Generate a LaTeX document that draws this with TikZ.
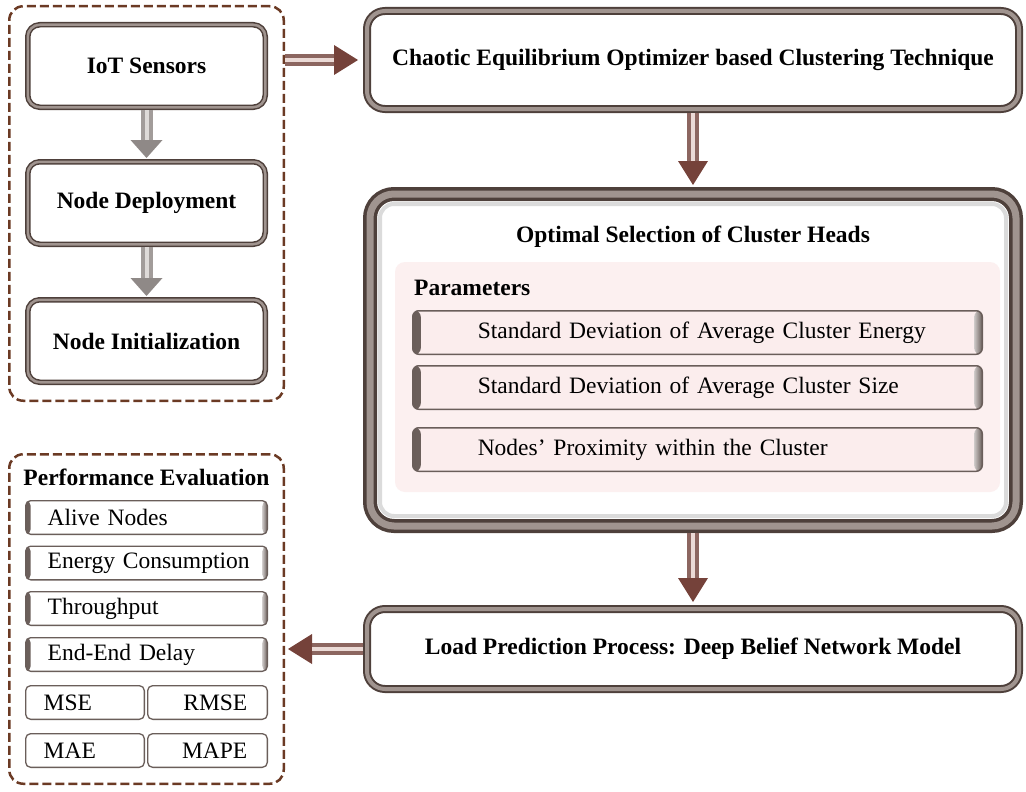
\documentclass[tikz,border=0pt]{standalone}
\usepackage{fontspec}
\setmainfont{Liberation Serif}
\usetikzlibrary{arrows.meta}
\definecolor{framedark}{HTML}{4E403B}
\definecolor{framelight}{HTML}{A0948F}
\definecolor{dashbrown}{HTML}{6B3A24}
\definecolor{pinkbg}{HTML}{FCF0F0}
\definecolor{pinkbox}{HTML}{FBEDED}
\definecolor{arrowbrown}{HTML}{8C6660}
\definecolor{arrowlight}{HTML}{EBDAD6}
\definecolor{headbrown}{HTML}{75423A}
\definecolor{arrowgray}{HTML}{A29C9A}
\definecolor{arrowgraylight}{HTML}{DEDAD8}
\definecolor{headgray}{HTML}{8F8987}
\definecolor{bargray}{HTML}{6A5E5A}
\tikzset{
  boldtxt/.style={font=\fontsize{23.5}{27}\selectfont\bfseries},
  regtxt/.style={font=\fontsize{23.5}{27}\selectfont},
  groupbox/.style={draw=dashbrown, line width=2.5pt, dash pattern=on 9pt off 4pt,
    rounded corners=14pt, inner sep=0pt, outer sep=1.25pt},
  smallframe/.style={draw=framedark, line width=1.5pt, double=framelight, double distance=2.5pt,
    fill=white, rounded corners=12pt, inner sep=0pt, outer sep=2.75pt,
    minimum width=237.5pt, minimum height=82.5pt, boldtxt},
  bigframe/.style={draw=framedark, line width=2pt, double=framelight, double distance=4pt,
    fill=white, rounded corners=18pt, inner sep=0pt, outer sep=4pt,
    minimum width=652pt, boldtxt},
  optframe/.style={draw=framedark, line width=3.5pt, double=framelight, double distance=7pt,
    fill=white, rounded corners=24pt, inner sep=0pt, outer sep=7pt,
    minimum width=646pt, minimum height=332pt},
  sidebars/.style={path picture={
      \shade[left color=bargray, right color=bargray!35]
        (path picture bounding box.north west) rectangle ([xshift=#1]path picture bounding box.south west);
      \shade[right color=bargray, left color=bargray!35]
        (path picture bounding box.north east) rectangle ([xshift=-#1]path picture bounding box.south east);}},
  parambox/.style={draw=bargray, line width=1.5pt, fill=pinkbox, rounded corners=6pt,
    minimum width=569.5pt, minimum height=43.5pt, inner xsep=10pt, inner ysep=0pt,
    text width=549.5pt, align=left, regtxt, sidebars=8pt},
  perfbox/.style={draw=bargray, line width=1.3pt, fill=white, rounded corners=5pt,
    minimum height=33.7pt, inner xsep=10pt, inner ysep=0pt,
    text width=221.7pt, align=left, regtxt, sidebars=5pt},
  metricL/.style={draw=bargray, line width=1.3pt, fill=white, rounded corners=5pt,
    minimum height=33.7pt, inner xsep=18pt, inner ysep=0pt,
    text width=82.7pt, align=left, regtxt},
  metricR/.style={draw=bargray, line width=1.3pt, fill=white, rounded corners=5pt,
    minimum height=33.7pt, inner xsep=20pt, inner ysep=0pt,
    text width=79.7pt, align=right, regtxt},
  brownarrow/.style={draw=arrowbrown, line width=12pt,
    -{Triangle[width=30pt,length=24pt,line width=0pt,fill=headbrown,color=headbrown]},
    postaction={draw=arrowlight, line width=4pt, -, shorten >=#1}},
  brownarrow/.default=24pt,
  grayarrow/.style={draw=arrowgray, line width=12pt,
    -{Triangle[width=32pt,length=18pt,line width=0pt,fill=headgray,color=headgray]},
    postaction={draw=arrowgraylight, line width=4pt, -, shorten >=#1}},
  grayarrow/.default=18pt,
}
\begin{document}
\begin{tikzpicture}[x=1pt,y=-1pt]
\useasboundingbox (0,0) rectangle (1026,792);

% left group
\node[groupbox, minimum width=274.5pt, minimum height=394.5pt] (leftgrp) at (146.5,203.5) {};
\node[smallframe] (iot) at (146.5,66) {IoT Sensors};
\node[smallframe] (deploy) at (146.5,203) {Node Deployment};
\node[smallframe] (init) at (146.5,341) {Node Initialization};

% right column
\node[bigframe, minimum height=98pt] (chaotic) at (693,60) {Chaotic Equilibrium Optimizer based Clustering Technique};
\node[optframe] (optimal) at (693,360) {};
\draw[black!14, line width=4pt, rounded corners=14pt] (380,204) rectangle (1006,516);
\node[boldtxt] (opttitle) at (693,237) {Optimal Selection of Cluster Heads};
\node[fill=pinkbg, rounded corners=10pt, minimum width=605pt, minimum height=230pt, inner sep=0pt] (pinkreg) at (697.5,377) {};
\node[boldtxt, anchor=west, inner sep=0pt] (params) at (414,288) {Parameters};
\node[parambox] (p1) at (697.5,332.5) {\hspace*{55pt}Standard Deviation of Average Cluster Energy};
\node[parambox] (p2) at (697.5,387.5) {\hspace*{55pt}Standard Deviation of Average Cluster Size};
\node[parambox] (p3) at (697.5,449.5) {\hspace*{55pt}Nodes’ Proximity within the Cluster};
\node[bigframe, minimum height=80pt] (load) at (693,649) {Load Prediction Process: Deep Belief Network Model};

% performance group
\node[groupbox, minimum width=274.5pt, minimum height=329.5pt] (perfgrp) at (146.5,619) {};
\node[boldtxt, inner sep=0pt] (perftitle) at (146.5,477) {Performance Evaluation};
\node[perfbox] (alive) at (146.5,517.5) {\hspace*{12pt}Alive Nodes};
\node[perfbox] (energy) at (146.5,563) {\hspace*{12pt}Energy Consumption};
\node[perfbox] (thru) at (146.5,608.5) {\hspace*{12pt}Throughput};
\node[perfbox] (delay) at (146.5,654.5) {\hspace*{12pt}End-End Delay};
\node[metricL] (mse) at (85,702.5) {MSE};
\node[metricR] (rmse) at (207.5,702.5) {RMSE};
\node[metricL] (mae) at (85,750.5) {MAE};
\node[metricR] (mape) at (207.5,750.5) {MAPE};

% connectors
\draw[grayarrow=19pt, shorten >=1pt] (iot.south) -- (deploy.north);
\draw[grayarrow=19pt, shorten >=1pt] (deploy.south) -- (init.north);
\draw[brownarrow=29pt, shorten >=5pt] (leftgrp.east |- chaotic.west) -- (chaotic.west);
\draw[brownarrow=26pt, shorten >=2pt] (chaotic.south) -- (optimal.north);
\draw[brownarrow=27pt, shorten >=3pt] (optimal.south) -- (load.north);
\draw[brownarrow=27pt, shorten >=3pt] (load.west) -- (perfgrp.east |- load.west);
\end{tikzpicture}
\end{document}
